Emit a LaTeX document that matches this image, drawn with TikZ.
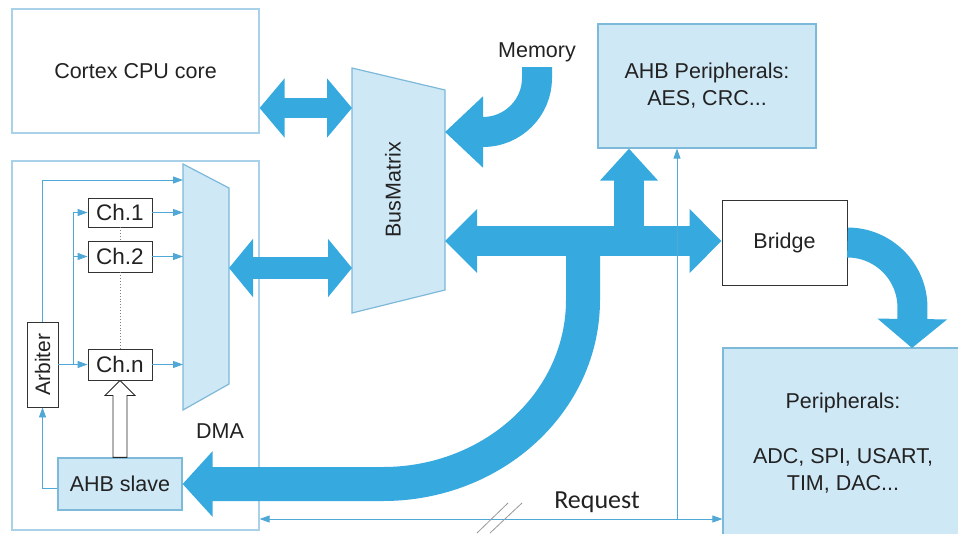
\documentclass[tikz,border=0pt]{standalone}
\usepackage{fontspec}
\usepackage{graphicx}
\setmainfont{Liberation Sans}
\newfontfamily\reqfont{Carlito}
\usetikzlibrary{arrows.meta,calc}
\definecolor{abl}{HTML}{36A9DF}
\definecolor{lfill}{HTML}{CFE8F6}
\definecolor{bord}{HTML}{7DB9D8}
\definecolor{pale}{HTML}{A9D1E8}
\definecolor{thin}{HTML}{4FA8D6}
\definecolor{ink}{HTML}{222222}
\begin{document}
\begin{tikzpicture}[x=1pt,y=-1pt,
  lbl/.style={font=\fontsize{21.5}{27}\selectfont, text=ink},
  chlbl/.style={font=\fontsize{22.5}{27}\selectfont, text=ink},
  wbox/.style={draw=pale, fill=white, line width=1.2pt, inner sep=0pt, lbl},
  bbox/.style={draw=bord, fill=lfill, line width=1.2pt, inner sep=0pt, lbl, align=center},
  kbox/.style={draw=black!80, fill=white, line width=0.9pt, inner sep=0pt},
  trap/.style={draw=bord, fill=lfill, line width=1.2pt},
  sig/.style={draw=thin, line width=0.9pt, -{Triangle[length=10pt,width=7pt]}},
  sigb/.style={draw=thin, line width=0.9pt, {Triangle[length=10pt,width=7pt]}-{Triangle[length=10pt,width=7pt]}},
  bus/.style={draw=abl, line width=#1},
]
\clip (0,0) rectangle (958,533);
\fill[white] (0,0) rectangle (958,533);

% boxes
\node[wbox, minimum width=247pt, minimum height=369pt] (dmab) at (135.5,345.5) {};
\node[wbox, minimum width=247pt, minimum height=124pt] (cpu) at (135.5,71) {Cortex CPU core};
\node[bbox, minimum width=218pt, minimum height=124pt] (ahbp) at (707,86) {AHB Peripherals:\\AES, CRC...};
\node[kbox, lbl, minimum width=125pt, minimum height=85pt] (bridge) at (784.5,242.5) {Bridge};
\node[bbox, minimum width=240pt, minimum height=192pt] (periph) at (843,444) {};
\node[lbl, align=center] (periphtxt) at (843,443) {Peripherals:\\[28pt]ADC, SPI, USART,\\TIM, DAC...};

\node[kbox, minimum width=31pt, minimum height=85pt] (arb) at (42.5,364.5) {\rotatebox{90}{\fontsize{21}{25}\selectfont\color{ink}Arbiter}};
\node[kbox, chlbl, minimum width=64pt, minimum height=29pt] (ch1) at (120,212.5) {Ch.1};
\node[kbox, chlbl, minimum width=64pt, minimum height=31pt] (ch2) at (120,256.5) {Ch.2};
\node[kbox, chlbl, minimum width=64pt, minimum height=31pt] (chn) at (120,364.5) {Ch.n};
\node[bbox, draw=bord, minimum width=124pt, minimum height=52pt] (slave) at (120,484) {AHB slave};

% DMA trapezoid
\coordinate (d1) at (183,164);
\coordinate (d2) at (229,188);
\coordinate (d3) at (229,384);
\coordinate (d4) at (183,410);
\draw[trap] (d1) -- (d2) -- (d3) -- (d4) -- cycle;
\node[lbl] (dmalbl) at (220,431) {DMA};

% BusMatrix trapezoid
\coordinate (b1) at (352,68);
\coordinate (b2) at (445,90);
\coordinate (b3) at (445,290);
\coordinate (b4) at (352,313);
\draw[trap] (b1) -- (b2) -- (b3) -- (b4) -- cycle;
\node[lbl, rotate=90] (bmlbl) at (393,190) {BusMatrix};

\node[lbl] (mem) at (537,52) {Memory};

% thick arrows
\coordinate (bmL1) at (352,108);
\draw[bus=20pt, {Triangle[length=25pt,width=58pt]}-{Triangle[length=25pt,width=58pt]}] (cpu.east |- bmL1) -- (bmL1);
\coordinate (bmL2) at (352,268);
\coordinate (dmR) at (229,268);
\draw[bus=22pt, {Triangle[length=24pt,width=57pt]}-{Triangle[length=24pt,width=57pt]}] (dmR) -- (bmL2);
\coordinate (bmR) at (445,241);
\coordinate (memtop) at (537,67);
\coordinate (bmM) at (445,132);
\draw[bus=30pt, -{Triangle[length=38pt,width=69pt]}] (memtop) -- ++(0,11) arc[start angle=0,end angle=90,radius=54] -- (bmM);
\coordinate (upx) at (629,241);
\coordinate (dnx) at (583,241);
\draw[bus=34pt, -{Triangle[length=30pt,width=64pt]}] (dnx) -- (583,300) arc[start angle=0,end angle=90,x radius=200,y radius=184] -- (slave.east);
\draw[bus=30pt, {Triangle[length=32pt,width=62pt]}-{Triangle[length=32pt,width=62pt]}] (bmR) -- (bridge.west |- bmR);
\draw[bus=30pt, -{Triangle[length=32pt,width=56pt]}] (upx) -- (upx |- ahbp.south);
\coordinate (pdn) at (912,348);
\draw[bus=30pt, -{Triangle[length=29pt,width=68pt]}] (bridge.east) arc[start angle=-90,end angle=0,radius=65] -- (pdn);

% DMA internal signals
\coordinate (dmL) at (183,0);
\coordinate (sx) at (73,0);
\draw[sig] (arb.north) |- ($(dmL)+(0,180)$);
\draw[sig] (ch1.east) -- (ch1.east -| dmL);
\draw[sig] (ch2.east) -- (ch2.east -| dmL);
\draw[sig] (chn.east) -- (chn.east -| dmL);
\draw[sig] (arb.east |- chn.west) -- (chn.west);
\draw[draw=thin, line width=0.9pt] (chn.west -| sx) -- (ch1.west -| sx);
\draw[sig] (ch1.west -| sx) -- (ch1.west);
\draw[sig] (ch2.west -| sx) -- (ch2.west);
\draw[sig] ($(slave.west)+(0,4)$) -| (arb.south);
\draw[gray, dotted, line width=0.9pt] (ch1.south) -- (ch2.north);
\draw[gray, dotted, line width=0.9pt] (ch2.south) -- (chn.north);

% hollow arrow
\draw[black!85, fill=white, line width=0.9pt]
  ($(slave.north)+(-7,0)$) -- ($(chn.south)+(-7,15)$) -- ($(chn.south)+(-15,15)$) -- (chn.south)
  -- ($(chn.south)+(15,15)$) -- ($(chn.south)+(7,15)$) -- ($(slave.north)+(7,0)$) -- cycle;

% request
\coordinate (rq) at (0,519);
\coordinate (vx) at (677,519);
\draw[sigb] (dmab.east |- rq) -- (periph.west |- rq);
\draw[sig] (vx) -- (vx |- ahbp.south);
\draw[gray!80, line width=0.8pt] (477,533) -- (508,503);
\draw[gray!80, line width=0.8pt] (490,533) -- (522,503);
\node[font=\reqfont\fontsize{26}{30}\selectfont, text=ink] (req) at (597,502) {Request};
\end{tikzpicture}
\end{document}
